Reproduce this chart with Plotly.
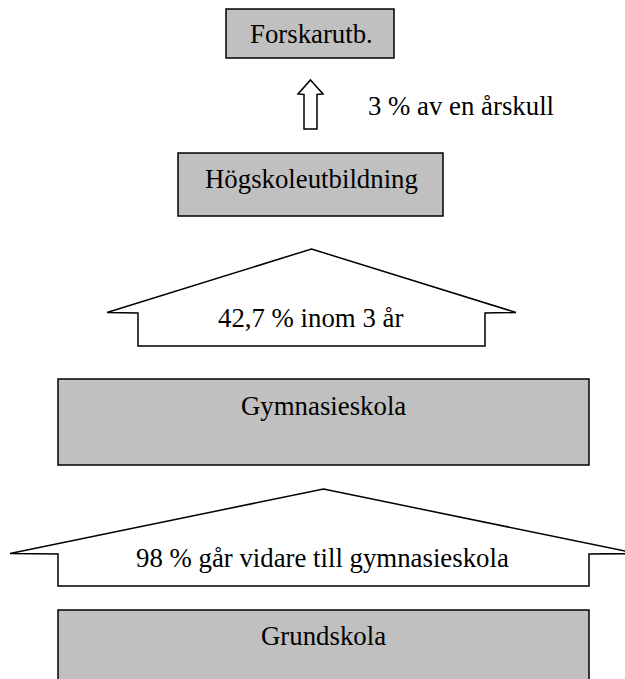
import plotly.graph_objects as go

# ---- data ----
stages = ["Forskarutb.", "Högskoleutbildning", "Gymnasieskola", "Grundskola"]
transition_pct = [3, 42.7, 98]
transition_labels = ["3 % av en årskull", "42,7 % inom 3 år", "98 % går vidare till gymnasieskola"]

# ---- geometry (pixel space, y downward) ----
W, H = 625, 679
box_geom = [  # x0, x1, y0, y1, text_x, text_y
    (226, 394, 9, 58, 311, 34),
    (178, 443, 153, 216, 311, 179),
    (58, 589, 379, 465, 323, 406),
    (58, 589, 610, 700, 323, 636),
]
arrow_geom = [  # apex_y, wing_half, head_base_y, shaft_half, bottom_y, center_x
    (80, 12.5, 94, 6.5, 129, 310.5),
    (249, 204.5, 312.5, 173.5, 346, 311.5),
    (489, 313.5, 553.5, 265.5, 586, 323.5),
]
label_pos = [  # x, y, anchor
    (366, 106, "left"),
    (310, 318, "center"),
    (322, 558, "center"),
]

FONT = "Liberation Serif, Times New Roman, serif"
FS = 26.8

fig = go.Figure()
shapes = []
annotations = []

for (x0, x1, y0, y1, tx, ty), name in zip(box_geom, stages):
    shapes.append(dict(type="rect", xref="x", yref="y", x0=x0, x1=x1, y0=y0, y1=y1,
                       fillcolor="#c0c0c0", line=dict(color="black", width=1.5), layer="below"))
    annotations.append(dict(x=tx, y=ty, xref="x", yref="y", text=name, showarrow=False,
                            xanchor="center", yanchor="middle",
                            font=dict(family=FONT, size=FS, color="black")))

for (ay, wh, hb, sh, by, cx), pct in zip(arrow_geom, transition_pct):
    pts = [(cx, ay), (cx + wh, hb), (cx + sh, hb + 0.5), (cx + sh, by),
           (cx - sh, by), (cx - sh, hb + 0.5), (cx - wh, hb)]
    path = "M " + " L ".join(f"{x},{y}" for x, y in pts) + " Z"
    shapes.append(dict(type="path", xref="x", yref="y", path=path,
                       fillcolor="white", line=dict(color="black", width=1.5), layer="below"))

for (lx, ly, anc), lab in zip(label_pos, transition_labels):
    annotations.append(dict(x=lx, y=ly, xref="x", yref="y", text=lab, showarrow=False,
                            xanchor=anc, yanchor="middle",
                            font=dict(family=FONT, size=FS, color="black")))

# invisible trace to establish axes
fig.add_trace(go.Scatter(x=[0, W], y=[0, H], mode="markers", marker=dict(opacity=0),
                         hoverinfo="skip", showlegend=False))

fig.update_layout(
    width=W, height=H,
    margin=dict(l=0, r=0, t=0, b=0),
    paper_bgcolor="white", plot_bgcolor="white",
    shapes=shapes, annotations=annotations,
    xaxis=dict(range=[0, W], visible=False, fixedrange=True),
    yaxis=dict(range=[H, 0], visible=False, fixedrange=True),
    showlegend=False,
)

fig.write_html("out.html", config={"displayModeBar": False},
               post_script="document.body.style.margin='0';document.body.style.overflow='hidden';")
